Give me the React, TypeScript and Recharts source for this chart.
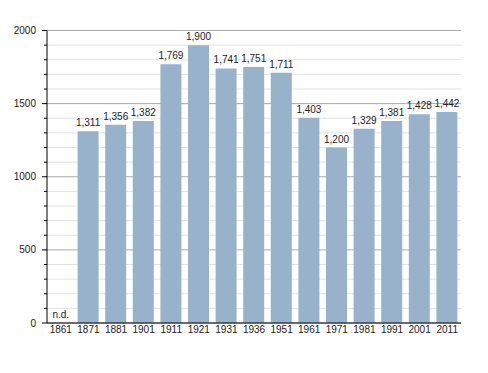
import { BarChart, Bar, XAxis, YAxis, CartesianGrid, LabelList, ReferenceDot } from 'recharts'

const years = ['1861', '1871', '1881', '1901', '1911', '1921', '1931', '1936', '1951', '1961', '1971', '1981', '1991', '2001', '2011']
const population: (number | null)[] = [null, 1311, 1356, 1382, 1769, 1900, 1741, 1751, 1711, 1403, 1200, 1329, 1381, 1428, 1442]
const yTicks = [0, 100, 200, 300, 400, 500, 600, 700, 800, 900, 1000, 1100, 1200, 1300, 1400, 1500, 1600, 1700, 1800, 1900, 2000]

const FONT = '"Liberation Sans", Arial, sans-serif'

const data = years.map((year, i) => ({
  year,
  value: population[i],
  label: population[i] == null ? '' : population[i]!.toLocaleString('en-US'),
}))

// years without data get an "n.d." note at the base
const missing = years.filter((_, i) => population[i] == null)

// y ticks: label only on multiples of 500, short tick marks for the rest
function YTick(props: any) {
  const { x, y, payload } = props
  const major = payload.value % 500 === 0
  return (
    <g>
      <line x1={x - (major ? 5 : 3)} y1={y} x2={x} y2={y} stroke="#000" />
      {major && (
        <text x={x - 11} y={y} dy="0.355em" textAnchor="end" fontSize={10} fontFamily={FONT} fill="#222">
          {payload.value}
        </text>
      )}
    </g>
  )
}

function GridLine(props: any) {
  const { x1, x2, y1, y2, index } = props
  const major = index % 5 === 0
  return <line x1={x1} x2={x2} y1={y1} y2={y2} stroke={major ? '#aaaaaa' : '#e2e2e2'} strokeWidth={1} />
}

export default function App() {
  return (
    <div style={{ position: 'absolute', left: 0, top: 0, background: '#fff' }}>
      <BarChart
        width={488}
        height={373}
        data={data}
        margin={{ top: 30.5, right: 27, left: 0, bottom: 30 }}
      >
        <CartesianGrid vertical={false} horizontal={GridLine as any} />
        <XAxis
          dataKey="year"
          height={20}
          tickSize={0}
          tickMargin={3}
          tickLine={false}
          axisLine={{ stroke: '#000' }}
          interval={0}
          tick={{ fontSize: 10, fontFamily: FONT, fill: '#222' }}
        />
        <YAxis
          width={47}
          domain={[0, 2000]}
          ticks={yTicks}
          interval={0}
          tickSize={0}
          tickMargin={0}
          tickLine={false}
          axisLine={{ stroke: '#000' }}
          tick={<YTick />}
        />
        <Bar dataKey="value" fill="#98b2cb" barSize={21} isAnimationActive={false}>
          <LabelList dataKey="label" position="top" offset={5} fontSize={10} fontFamily={FONT} fill="#222" />
        </Bar>
        {missing.map(year => (
          <ReferenceDot
            key={year}
            x={year}
            y={0}
            r={0}
            fill="none"
            stroke="none"
            label={{ value: 'n.d.', position: 'top', offset: 5, fontSize: 10, fontFamily: FONT, fill: '#222' }}
          />
        ))}
      </BarChart>
    </div>
  )
}
